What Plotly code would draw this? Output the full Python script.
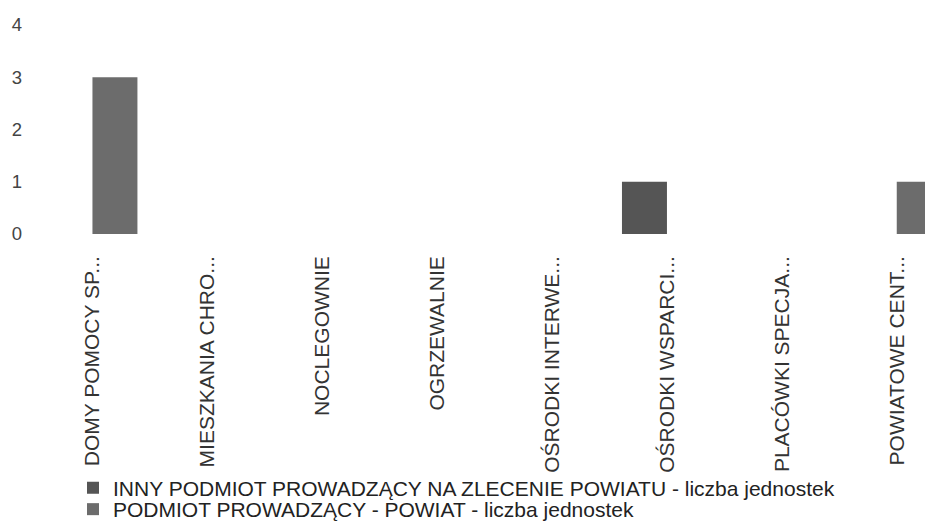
import plotly.graph_objects as go

categories = [
    "DOMY POMOCY SP...",
    "MIESZKANIA CHRO...",
    "NOCLEGOWNIE",
    "OGRZEWALNIE",
    "OŚRODKI INTERWE...",
    "OŚRODKI WSPARCI...",
    "PLACÓWKI SPECJA...",
    "POWIATOWE CENT...",
]
inny_values = [0, 0, 0, 0, 0, 1, 0, 0]
powiat_values = [3, 0, 0, 0, 0, 0, 0, 1]
series_names = [
    "INNY PODMIOT PROWADZĄCY NA ZLECENIE POWIATU - liczba jednostek",
    "PODMIOT PROWADZĄCY - POWIAT - liczba jednostek",
]
y_ticks = [0, 1, 2, 3, 4]

FONT = "Liberation Sans, Arial, sans-serif"

fig = go.Figure()
fig.add_trace(go.Bar(x=categories, y=inny_values, name=series_names[0],
                     legend="legend",
                     marker=dict(color="#555555", line=dict(width=0))))
fig.add_trace(go.Bar(x=categories, y=powiat_values, name=series_names[1],
                     legend="legend2",
                     marker=dict(color="#6c6c6c", line=dict(width=0))))

# page has an 8px body margin, so the figure is drawn 8px in from the top-left
W, H = 925, 516
L, R, T, B = 27, 0, 17, 290
plot_w = W - L - R
plot_h = H - T - B

legend_common = dict(
    xref="container", yref="container",
    xanchor="left", yanchor="top",
    orientation="v",
    font=dict(family=FONT, size=21, color="#222222"),
    bgcolor="rgba(0,0,0,0)",
    itemwidth=30,
)

fig.update_layout(
    width=W, height=H,
    margin=dict(l=L, r=R, t=T, b=B, pad=0, autoexpand=False),
    paper_bgcolor="white", plot_bgcolor="white",
    barmode="group", bargap=0.217, bargroupgap=0,
    font=dict(family=FONT, size=20, color="#333333"),
    showlegend=True,
    legend=dict(x=65 / W, y=1 - 459.5 / H, **legend_common),
    legend2=dict(x=65 / W, y=1 - 481 / H, **legend_common),
    xaxis=dict(
        type="category",
        range=[-0.5, -0.5 + plot_w / 114.9],
        tickangle=-90,
        showgrid=False, zeroline=False, showline=False,
        ticks="", ticklabelstandoff=17, automargin=False,
        tickfont=dict(family=FONT, size=21, color="#333333"),
    ),
    yaxis=dict(
        range=[0, 4],
        tickvals=y_ticks,
        showgrid=False, zeroline=False, showline=False,
        ticks="", ticklabelstandoff=12, automargin=False,
        tickfont=dict(family=FONT, size=18.5, color="#444444"),
    ),
)

fig.write_html("out.html")
